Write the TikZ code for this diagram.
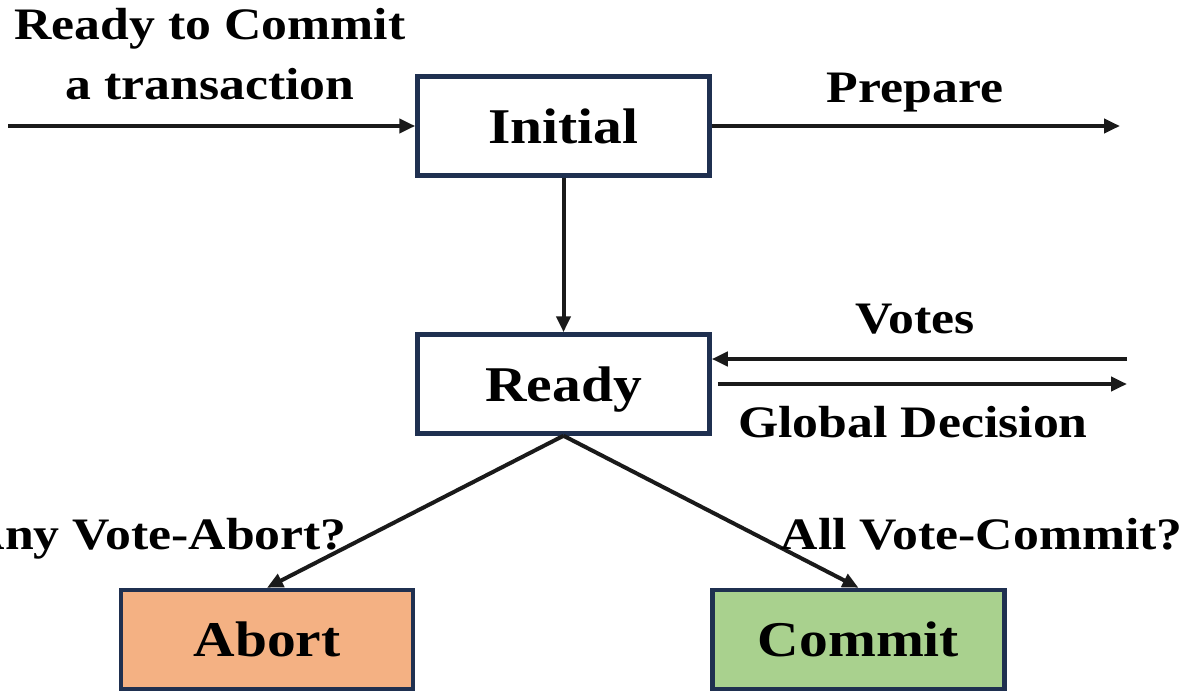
\documentclass[tikz,border=0pt]{standalone}
\usepackage{fontspec}
\setmainfont[FakeStretch=1.15]{Liberation Serif}
\usetikzlibrary{arrows.meta}
\definecolor{boxline}{HTML}{1F3050}
\definecolor{abortfill}{HTML}{F4B183}
\definecolor{commitfill}{HTML}{A9D18E}
\definecolor{ink}{HTML}{1A1A1A}
\tikzset{
  statebox/.style={draw=boxline, line width=4.5pt, minimum width=292pt, minimum height=99pt,
    inner sep=0pt, font=\fontsize{50}{56}\selectfont\bfseries, text=black,
    text height=34pt, text depth=0pt},
  flow/.style={draw=ink, line width=4pt, -{Triangle[length=16pt,width=14pt]}},
  lbl/.style={font=\fontsize{45}{50}\selectfont\bfseries, text=black, inner sep=0pt},
}
\begin{document}
\begin{tikzpicture}[x=1pt,y=-1pt]
\useasboundingbox (0,0) rectangle (1188,693);
% states
\node[statebox] (init) at (563.5,126) {Initial};
\node[statebox] (ready) at (563.5,384) {Ready};
\node[statebox, fill=abortfill] (abort) at (267,639.5) {Abort};
\node[statebox, fill=commitfill] (commit) at (858.5,639.5) {Commit};
% free ends
\coordinate (inL) at (8,126);
\coordinate (prepR) at (1120,126);
\coordinate (votesR) at (1127,359);
\coordinate (globR) at (1127,384);
% connectors
\draw[flow] (inL) -- (init.west);
\draw[flow] (init.east) -- (prepR);
\draw[flow] (init.south) -- (ready.north);
\draw[flow] (votesR) -- (ready.east |- votesR);
\draw[flow] ([xshift=6pt]ready.east |- globR) -- (globR);
\draw[flow] (ready.south) -- (abort.north);
\draw[flow] (ready.south) -- (commit.north);
% labels (placed on their baselines)
\node[lbl, anchor=base] (t1) at (210,40) {Ready to Commit};
\node[lbl, anchor=base] (t2) at (210,99) {a transaction};
\node[lbl, anchor=base] (tp) at (915,102) {Prepare};
\node[lbl, anchor=base] (tv) at (915,333) {Votes};
\node[lbl, anchor=base] (tg) at (913,437) {Global Decision};
\node[lbl, anchor=base east] (ta) at (347,549) {Any Vote-Abort?};
\node[lbl, anchor=base east] (tc) at (1183,549) {All Vote-Commit?};
\end{tikzpicture}
\end{document}
